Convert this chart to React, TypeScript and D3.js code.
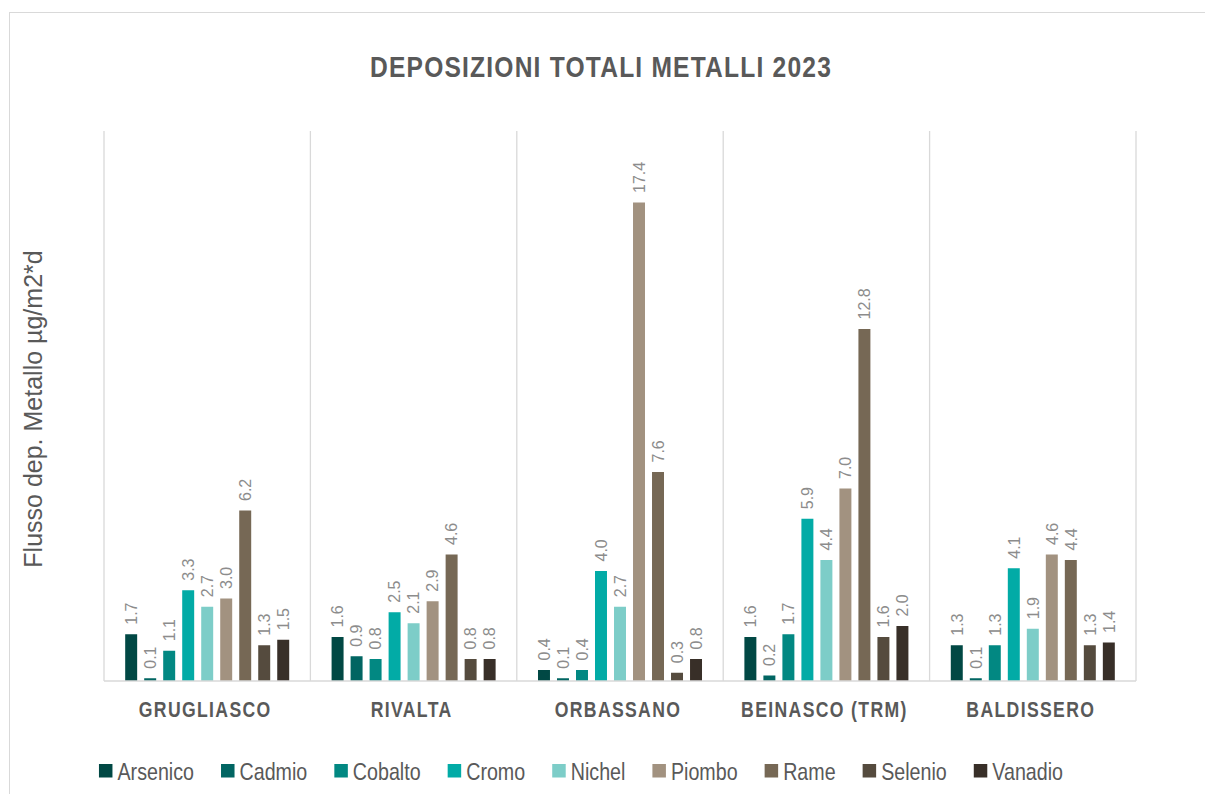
import React, { useMemo } from "react";
import * as d3 from "d3";

const categories = ["GRUGLIASCO", "RIVALTA", "ORBASSANO", "BEINASCO (TRM)", "BALDISSERO"];
const series = ["Arsenico", "Cadmio", "Cobalto", "Cromo", "Nichel", "Piombo", "Rame", "Selenio", "Vanadio"];
const colors = ["#014844", "#016562", "#028882", "#02aba6", "#7dcdc8", "#a29280", "#766855", "#554b3e", "#382f28"];

const arsenico = [1.7, 1.6, 0.4, 1.6, 1.3];
const cadmio = [0.1, 0.9, 0.1, 0.2, 0.1];
const cobalto = [1.1, 0.8, 0.4, 1.7, 1.3];
const cromo = [3.3, 2.5, 4.0, 5.9, 4.1];
const nichel = [2.7, 2.1, 2.7, 4.4, 1.9];
const piombo = [3.0, 2.9, 17.4, 7.0, 4.6];
const rame = [6.2, 4.6, 7.6, 12.8, 4.4];
const selenio = [1.3, 0.8, 0.3, 1.6, 1.3];
const vanadio = [1.5, 0.8, 0.8, 2.0, 1.4];

const seriesValues = [arsenico, cadmio, cobalto, cromo, nichel, piombo, rame, selenio, vanadio];

const title = "DEPOSIZIONI TOTALI METALLI 2023";
const yLabel = "Flusso dep. Metallo µg/m2*d";
const yDomain = [0, 20];

const W = 1205;
const H = 794;
const SANS = "'Liberation Sans', Arial, sans-serif";
const NARROW_SCALE = 0.82;

function measure(text: string, font: string): number {
  if (typeof document === "undefined") return text.length * 10;
  const c = document.createElement("canvas");
  const ctx = c.getContext("2d");
  if (!ctx) return text.length * 10;
  ctx.font = font;
  return ctx.measureText(text).width;
}

export default function App() {
  const x0 = d3.scaleBand<string>().domain(categories).range([104, 1136]).paddingInner(0).paddingOuter(0);
  const x1 = d3
    .scaleBand<string>()
    .domain(series)
    .range([0, x0.bandwidth()])
    .paddingInner(0.37)
    .paddingOuter(1.115);
  const y = d3.scaleLinear().domain(yDomain).range([681, 131]);

  const legendFontSize = 24;
  const legend = useMemo(() => {
    const sq = 13.5;
    const gapText = 5;
    const gapItem = 27;
    const widths = series.map((s) => measure(s, `${legendFontSize}px ${SANS}`) * NARROW_SCALE);
    const total = widths.reduce((a, w) => a + sq + gapText + w, 0) + gapItem * (series.length - 1);
    let cx = 581 - total / 2;
    return series.map((s, i) => {
      const item = { name: s, x: cx, color: colors[i] };
      cx += sq + gapText + widths[i] + gapItem;
      return item;
    });
  }, []);

  const boundaries = [...categories.map((c) => x0(c) as number), 1136];

  return (
    <svg
      width={W}
      height={H}
      style={{ position: "absolute", left: 0, top: 0, background: "#fff" }}
      xmlns="http://www.w3.org/2000/svg"
    >
      <rect x={0} y={0} width={W} height={H} fill="#fff" />
      <rect x={9.5} y={12.5} width={1400} height={1000} fill="#fff" stroke="#d9d9d9" strokeWidth={1} />

      <text
        transform={`translate(601,77) scale(${NARROW_SCALE},1)`}
        textAnchor="middle"
        fontFamily={SANS}
        fontWeight="bold"
        fontSize={30}
        letterSpacing={1.46}
        fill="#595959"
      >
        {title}
      </text>

      {/* vertical category gridlines */}
      {boundaries.map((bx, i) => (
        <line key={i} x1={bx} x2={bx} y1={y(20)} y2={y(0)} stroke="#d9d9d9" strokeWidth={1.3} />
      ))}

      {/* bars */}
      {categories.map((cat, ci) => (
        <g key={cat} transform={`translate(${x0(cat)},0)`}>
          {series.map((s, si) => {
            const v = seriesValues[si][ci];
            const bx = x1(s) as number;
            const bw = x1.bandwidth();
            const top = y(v);
            return (
              <g key={s}>
                <rect x={bx} y={top} width={bw} height={y(0) - top} fill={colors[si]} />
                <text
                  transform={`translate(${bx + bw / 2},${top - 9.5}) rotate(-90)`}
                  dy="0.36em"
                  fontFamily={SANS}
                  fontSize={16}
                  fill="#8c8c8c"
                  textAnchor="start"
                >
                  {d3.format(".1f")(v)}
                </text>
              </g>
            );
          })}
        </g>
      ))}

      {/* baseline */}
      <line x1={104} x2={1136} y1={y(0)} y2={y(0)} stroke="#d9d9d9" strokeWidth={1.3} />

      {/* category labels */}
      {categories.map((cat) => (
        <text
          key={cat}
          transform={`translate(${(x0(cat) as number) + x0.bandwidth() / 2 - 2},717) scale(0.8,1)`}
          textAnchor="middle"
          fontFamily={SANS}
          fontWeight="bold"
          fontSize={22}
          letterSpacing={1.7}
          fill="#595959"
        >
          {cat}
        </text>
      ))}

      {/* y axis label */}
      <text
        transform={`translate(42,${(y(0) + y(20)) / 2 + 3}) rotate(-90)`}
        textAnchor="middle"
        fontFamily={SANS}
        fontSize={25}
        fill="#595959"
      >
        {yLabel}
      </text>

      {/* legend */}
      {legend.map((it) => (
        <g key={it.name}>
          <rect x={it.x} y={764} width={13.5} height={13.5} fill={it.color} />
          <text
            transform={`translate(${it.x + 18.5},780) scale(${NARROW_SCALE},1)`}
            fontFamily={SANS}
            fontSize={legendFontSize}
            fill="#595959"
          >
            {it.name}
          </text>
        </g>
      ))}
    </svg>
  );
}
